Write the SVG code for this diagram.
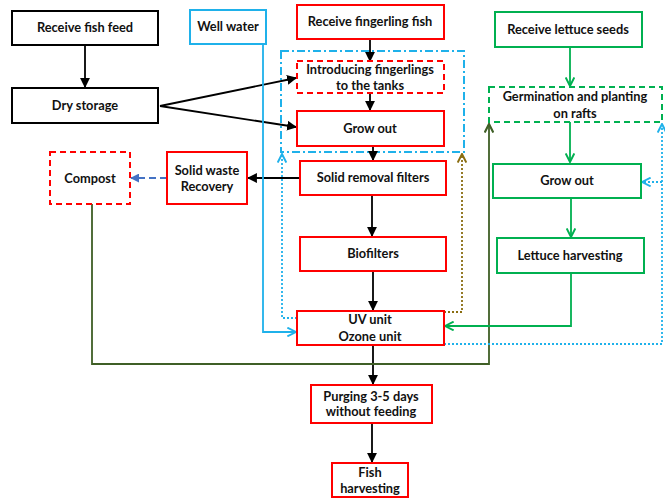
<svg xmlns="http://www.w3.org/2000/svg" width="665" height="499" viewBox="0 0 665 499">
<style>
text{font-family:Lato,"Liberation Sans",sans-serif;font-weight:bold;font-size:12.8px;fill:#111;text-anchor:middle}
.k{fill:#fff;stroke:#000;stroke-width:2}
.r{fill:#fff;stroke:#f00;stroke-width:2}
.rd{fill:#fff;stroke:#f00;stroke-width:2;stroke-dasharray:6 4}
.b{fill:#fff;stroke:#1fb1ea;stroke-width:2}
.g{fill:#fff;stroke:#00b050;stroke-width:2}
.gd{fill:#fff;stroke:#00b050;stroke-width:2;stroke-dasharray:6 4}
.c{fill:none;stroke-width:1.8}
</style>
<defs>
<marker id="ak" viewBox="0 0 10 10" refX="9" refY="5" markerWidth="5.5" markerHeight="5.5" orient="auto"><path d="M0,0L10,5L0,10z" fill="#000"/></marker>
<marker id="ab" viewBox="0 0 10 10" refX="9" refY="5" markerWidth="6" markerHeight="6" orient="auto"><path d="M1,1L9,5L1,9" fill="none" stroke="#1fb1ea" stroke-width="1.8"/></marker>
<marker id="ag" viewBox="0 0 10 10" refX="9" refY="5" markerWidth="6" markerHeight="6" orient="auto"><path d="M1,1L9,5L1,9" fill="none" stroke="#00b050" stroke-width="1.8"/></marker>
<marker id="adg" viewBox="0 0 10 10" refX="9" refY="5" markerWidth="6" markerHeight="6" orient="auto"><path d="M1,1L9,5L1,9" fill="none" stroke="#3f5f26" stroke-width="2"/></marker>
<marker id="abr" viewBox="0 0 10 10" refX="9" refY="5" markerWidth="6" markerHeight="6" orient="auto"><path d="M1,1L9,5L1,9" fill="none" stroke="#8a6d10" stroke-width="1.8"/></marker>
<marker id="adb" viewBox="0 0 10 10" refX="9" refY="5" markerWidth="5" markerHeight="5" orient="auto"><path d="M0,0L10,5L0,10z" fill="#4472c4"/></marker>
</defs>

<g id="connectors">
<rect x="281" y="51" width="183" height="101" fill="none" stroke="#1fb1ea" stroke-width="2" stroke-dasharray="8 3 2 3"/>
<path class="c" stroke="#000" d="M85,45V87" marker-end="url(#ak)"/>
<path class="c" stroke="#000" d="M160,106L296,78" marker-end="url(#ak)"/>
<path class="c" stroke="#000" d="M160,106L296,127" marker-end="url(#ak)"/>
<path class="c" stroke="#000" d="M370,39V61" marker-end="url(#ak)"/>
<path class="c" stroke="#000" d="M370,93V110" marker-end="url(#ak)"/>
<path class="c" stroke="#000" d="M373,146V160" marker-end="url(#ak)"/>
<path class="c" stroke="#000" d="M300,178H248" marker-end="url(#ak)"/>
<path class="c" stroke="#4472c4" stroke-dasharray="7 4" d="M167,178H131" marker-end="url(#adb)"/>
<path class="c" stroke="#000" d="M372,195V236" marker-end="url(#ak)"/>
<path class="c" stroke="#000" d="M373,271V310" marker-end="url(#ak)"/>
<path class="c" stroke="#000" d="M373,345V384" marker-end="url(#ak)"/>
<path class="c" stroke="#000" d="M372,423V462" marker-end="url(#ak)"/>
<path class="c" stroke="#1fb1ea" d="M263,44V332H296" marker-end="url(#ab)"/>
<path class="c" stroke="#1fb1ea" stroke-dasharray="2 2" d="M297,318H282V154" marker-end="url(#ab)"/>
<path class="c" stroke="#8a6d10" stroke-dasharray="2 2" d="M444,312H462V154" marker-end="url(#abr)"/>
<path class="c" stroke="#3f5f26" d="M92,204V364H489V124" marker-end="url(#adg)"/>
<path class="c" stroke="#00b050" d="M570,47V86" marker-end="url(#ag)"/>
<path class="c" stroke="#00b050" d="M570,122V162" marker-end="url(#ag)"/>
<path class="c" stroke="#00b050" d="M571,198V237" marker-end="url(#ag)"/>
<path class="c" stroke="#00b050" d="M571,273V326H445" marker-end="url(#ag)"/>
<path class="c" stroke="#1fb1ea" stroke-dasharray="2 2" d="M444,344H662V124" marker-end="url(#ab)"/>
<path class="c" stroke="#1fb1ea" stroke-dasharray="2 2" d="M662,182H642" marker-end="url(#ab)"/>
</g>

<g id="receive-fish-feed"><rect class="k" x="12" y="11" width="146" height="34"/><text x="85" y="32">Receive fish feed</text></g>
<g id="dry-storage"><rect class="k" x="12" y="88" width="146" height="35"/><text x="85" y="110">Dry storage</text></g>
<g id="well-water"><rect class="b" x="190" y="10" width="76" height="34"/><text x="228" y="31">Well water</text></g>
<g id="receive-fingerling"><rect class="r" x="297" y="5" width="147" height="34"/><text x="370" y="26">Receive fingerling fish</text></g>
<g id="introducing"><rect class="rd" x="297" y="61" width="147" height="32"/><text x="370" y="74">Introducing fingerlings</text><text x="370" y="90">to the tanks</text></g>
<g id="grow-out-fish"><rect class="r" x="297" y="111" width="147" height="35"/><text x="370" y="133">Grow out</text></g>
<g id="solid-removal"><rect class="r" x="300" y="161" width="146" height="34"/><text x="373" y="182">Solid removal filters</text></g>
<g id="solid-waste"><rect class="r" x="167" y="152" width="80" height="52"/><text x="207" y="175">Solid waste</text><text x="207" y="191">Recovery</text></g>
<g id="compost"><rect class="rd" x="50" y="152" width="80" height="52"/><text x="90" y="183">Compost</text></g>
<g id="biofilters"><rect class="r" x="300" y="237" width="146" height="34"/><text x="373" y="258">Biofilters</text></g>
<g id="uv-ozone"><rect class="r" x="297" y="311" width="147" height="34"/><text x="370" y="324">UV unit</text><text x="370" y="341">Ozone unit</text></g>
<g id="purging"><rect class="r" x="311" y="385" width="121" height="38"/><text x="371" y="401">Purging 3-5 days</text><text x="371" y="416">without feeding</text></g>
<g id="fish-harvesting"><rect class="r" x="332" y="463" width="76" height="34"/><text x="370" y="477">Fish</text><text x="370" y="493">harvesting</text></g>
<g id="receive-lettuce"><rect class="g" x="495" y="12" width="147" height="35"/><text x="568" y="34">Receive lettuce seeds</text></g>
<g id="germination"><rect class="gd" x="489" y="87" width="173" height="35"/><text x="575" y="101">Germination and planting</text><text x="575" y="118">on rafts</text></g>
<g id="grow-out-lettuce"><rect class="g" x="493" y="164" width="148" height="34"/><text x="567" y="185">Grow out</text></g>
<g id="lettuce-harvesting"><rect class="g" x="497" y="238" width="147" height="35"/><text x="570" y="260">Lettuce harvesting</text></g>
</svg>
